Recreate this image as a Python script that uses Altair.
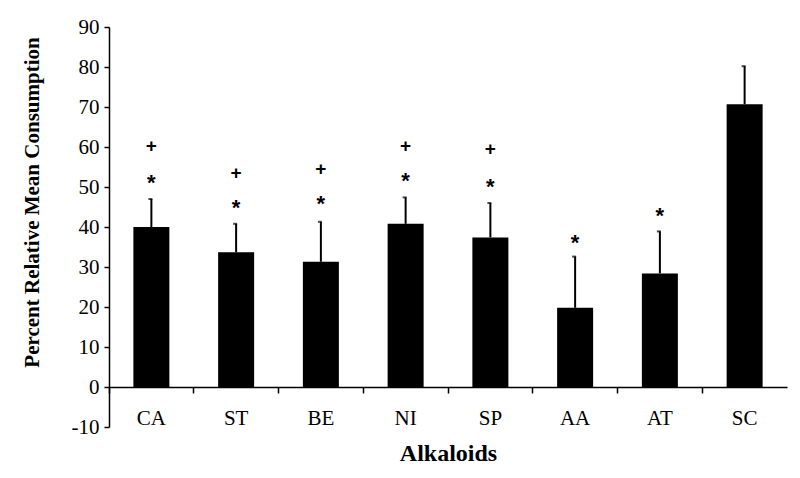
import altair as alt
import pandas as pd

categories = ["CA", "ST", "BE", "NI", "SP", "AA", "AT", "SC"]
means = [40.0, 33.7, 31.3, 40.8, 37.4, 19.8, 28.4, 70.7]
upper = [47.0, 40.8, 41.3, 47.4, 46.0, 32.6, 38.9, 80.2]
star_pos = [52.2, 45.9, 46.9, 52.7, 51.3, 37.3, 44.0, None]
plus_pos = [60.3, 53.6, 54.5, 60.3, 59.4, None, None, None]
y_ticks = [-10, 0, 10, 20, 30, 40, 50, 60, 70, 80, 90]

df = pd.DataFrame({"cat": categories, "mean": means, "upper": upper,
                   "star": star_pos, "plus": plus_pos})
df_star = df.dropna(subset=["star"])
df_plus = df.dropna(subset=["plus"])

FONT = "Liberation Serif"
XTITLE = "Alkaloids"
YTITLE = "Percent Relative Mean Consumption"

xscale = alt.Scale(paddingInner=0.0, paddingOuter=0.0)
xaxis = alt.Axis(offset=-40, bandPosition=0, labelAngle=0,
                 tickSize=6, tickColor="black", tickWidth=1.5,
                 domainColor="black", domainWidth=1.5,
                 labelFont=FONT, labelFontSize=21, labelColor="black",
                 labelPadding=14, titleFont=FONT, titleFontSize=24,
                 titleFontWeight="bold", titleColor="black",
                 titlePadding=13)
yscale = alt.Scale(domain=[-10, 90], nice=False, zero=False)
yaxis = alt.Axis(values=y_ticks, grid=False, labelOverlap=False,
                 labelExpr="'' + datum.value",
                 tickSize=5, tickColor="black", tickWidth=1.5,
                 domainColor="black", domainWidth=1.5,
                 labelFont=FONT, labelFontSize=21, labelColor="black",
                 labelPadding=5, titleFont=FONT, titleFontSize=21,
                 titleFontWeight="bold", titleColor="black",
                 titleX=-77, titleY=175, titleAngle=-90,
                 titleAlign="center", titleBaseline="middle")


def X():
    return alt.X("cat:N", sort=categories, title=XTITLE, scale=xscale, axis=xaxis)


def Y(field):
    return alt.Y(field, scale=yscale, title=YTITLE, axis=yaxis)


base = alt.Chart(df)
bars = base.mark_bar(size=36, color="black").encode(x=X(), y=Y("mean:Q"))
err = base.mark_rule(color="black", strokeWidth=2).encode(
    x=X(), y=Y("mean:Q"), y2="upper:Q")
cap = base.mark_tick(color="black", size=4, thickness=2, orient="horizontal",
                     xOffset=-1).encode(x=X(), y=Y("upper:Q"))
stars = alt.Chart(df_star).mark_text(text="*", font="Liberation Sans", fontSize=22,
                                     fontWeight="bold", color="black",
                                     baseline="middle", dy=5).encode(
    x=X(), y=Y("star:Q"))
plus = alt.Chart(df_plus).mark_text(text="+", font="Liberation Sans", fontSize=19,
                                    fontWeight="bold", color="black",
                                    baseline="middle", dy=0).encode(
    x=X(), y=Y("plus:Q"))

chart = alt.layer(bars, err, cap, stars, plus).properties(
    width=678, height=400, background="white",
    autosize=alt.AutoSizeParams(type="none"),
    padding={"left": 101, "top": 19, "right": 5, "bottom": 45},
).configure_view(stroke=None)

chart.save("out.html", embed_options={"renderer": "svg", "actions": False})
